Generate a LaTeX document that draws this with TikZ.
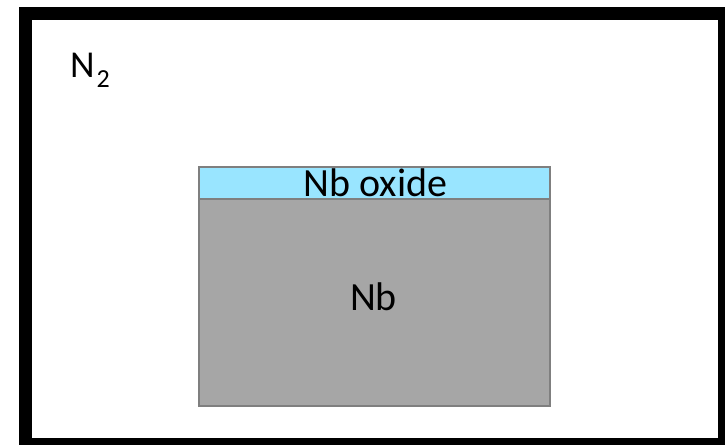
\documentclass[tikz,border=0pt]{standalone}
\usepackage{fontspec}
\setmainfont{Carlito}
\definecolor{oxideblue}{HTML}{99E5FF}
\definecolor{nbgray}{HTML}{A6A6A6}
\definecolor{edgegray}{HTML}{7F7F7F}
\begin{document}
\begin{tikzpicture}[x=1pt,y=-1pt,
  layer/.style={draw=edgegray,line width=1.8pt,inner sep=0pt,outer sep=0pt},
  lbl/.style={inner sep=0pt,anchor=base,font=\fontsize{40}{44}\selectfont}]
\useasboundingbox (0,0) rectangle (725,445);
% chamber wall
\fill[black] (19,7) rectangle (725,445);
\fill[white] (32,20) rectangle (718,438);
% niobium block with its oxide film
\node[layer,fill=nbgray,minimum width=351pt,minimum height=207pt] (nb) at (374.5,302.5) {};
\node[layer,fill=oxideblue,minimum width=351pt,minimum height=32pt] (oxide) at (374.5,183) {};
% labels
\node[lbl] (oxidelbl) at (375.5,196.5) {Nb oxide};
\node[lbl] (nblbl) at (373.5,310.5) {Nb};
\node[lbl,anchor=base west,font=\fontsize{38}{42}\selectfont] (gas) at (70,77)
  {N\kern2pt\raisebox{-10pt}{\fontsize{26}{30}\selectfont 2}};
\end{tikzpicture}
\end{document}
